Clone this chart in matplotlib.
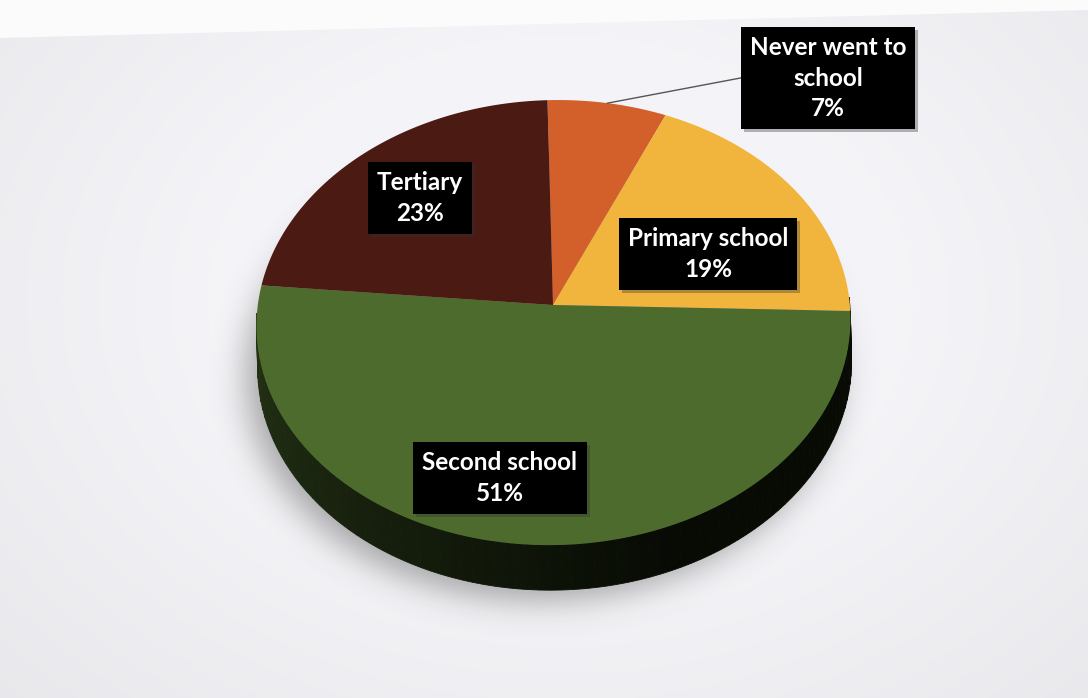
import numpy as np
import matplotlib
matplotlib.use("Agg")
import matplotlib.pyplot as plt
from matplotlib.patches import Polygon, Rectangle
from matplotlib.path import Path

# ---- data -------------------------------------------------------------
categories = ["Never went to school", "Primary school", "Second school", "Tertiary"]
label_lines = ["Never went to\nschool", "Primary school", "Second school", "Tertiary"]
shares = [7, 19, 51, 23]
slice_colors = ["#d3602b", "#f1b53d", "#4c6b2c", "#4a1a13"]

# label anchor points (pixel space, origin top-left)
label_pos = [(828, 78), (708, 254), (500, 478), (420, 198)]

# ---- geometry of the tilted pie ----------------------------------------
W, H = 1088, 698
CX, CY = 553, 305
RX, RY = 296, 221
K = 0.079          # perspective strength
TILT = 0.027       # small in-plane rotation
DEPTH = 41.5       # thickness of the disc

fig = plt.figure(figsize=(W / 100, H / 100), dpi=100)
ax = fig.add_axes([0, 0, 1, 1])
ax.set_xlim(0, W)
ax.set_ylim(H, 0)
ax.axis("off")


def project(t, drop=0.0, r=1.0):
    s, c = np.sin(t), np.cos(t)
    w = 1 + K * s
    x = r * RX * c / w
    y = -r * RY * s / w + drop / w
    return CX + x + TILT * y, CY + y - TILT * x


# ---- background: paper with soft vignette ------------------------------
yy, xx = np.mgrid[0:H, 0:W]
d = np.sqrt(((xx - 560) / 640.0) ** 2 + ((yy - 300) / 480.0) ** 2)
shade = 0.975 - 0.07 * np.clip(d - 0.5, 0, None)
bg = np.dstack([shade * 0.985, shade * 0.985, shade, np.ones_like(shade)])
ax.imshow(bg, extent=[0, W, H, 0], zorder=0, interpolation="bilinear")
ax.add_patch(Polygon([(0, 0), (W, 0), (W, 10), (0, 38)], closed=True,
                     fc="#fbfbfc", ec="none", zorder=0.5))

# ---- soft shadow under the disc ----------------------------------------
tt = np.linspace(0, 2 * np.pi, 400)
sx, sy = project(tt, drop=DEPTH + 6)
shadow_path = Path(np.column_stack([sx - 12, sy + 4]))
mask = shadow_path.contains_points(np.column_stack([xx.ravel() + 0.5, yy.ravel() + 0.5]))
mask = mask.reshape(H, W).astype(float)
sig = 16.0
fy = np.fft.fftfreq(H)[:, None]
fx = np.fft.fftfreq(W)[None, :]
blur = np.real(np.fft.ifft2(np.fft.fft2(mask) * np.exp(-2 * (np.pi * sig) ** 2 * (fx ** 2 + fy ** 2))))
sh = np.zeros((H, W, 4))
sh[..., 0:3] = 0.35
sh[..., 3] = np.clip(blur, 0, 1) * 0.5
ax.imshow(sh, extent=[0, W, H, 0], zorder=1, interpolation="bilinear")

# ---- slice angles --------------------------------------------------------
total = float(sum(shares))
bounds = 90 - 360 * np.concatenate([[0], np.cumsum(shares)]) / total
starts, ends = bounds[:-1], bounds[1:]


def darken(col, f):
    rgb = np.array(matplotlib.colors.to_rgb(col))
    return tuple(rgb * f)


# ---- disc side (visible on the front half) --------------------------------
for col, a0, a1 in zip(slice_colors, starts, ends):
    hi, lo = a0, a1
    # visible front arc is 180..360 degrees (i.e. -180..0)
    for off in (0, -360, 360):
        seg_hi = min(hi + off, 0)
        seg_lo = max(lo + off, -180)
        if seg_hi <= seg_lo:
            continue
        edges = np.linspace(seg_lo, seg_hi, max(2, int((seg_hi - seg_lo) / 2) + 1))
        for e0, e1 in zip(edges[:-1], edges[1:]):
            tseg = np.radians(np.linspace(e0, e1, 4))
            tx, ty = project(tseg)
            bx, by = project(tseg[::-1], drop=DEPTH)
            mid = (e0 + e1) / 2.0
            f = 0.48 - 0.38 * np.clip((mid + 180) / 110.0, 0, 1)
            ax.add_patch(Polygon(np.column_stack([np.r_[tx, bx], np.r_[ty, by]]),
                                 closed=True, fc=darken(col, f), ec=darken(col, f),
                                 lw=0.6, zorder=2))

# ---- disc top -------------------------------------------------------------
for col, a0, a1 in zip(slice_colors, starts, ends):
    t = np.radians(np.linspace(a0, a1, 120))
    px, py = project(t)
    ax.add_patch(Polygon(np.column_stack([np.r_[CX, px], np.r_[CY, py]]),
                         closed=True, fc=col, ec="none", zorder=3))

# ---- labels -------------------------------------------------------------
font = dict(family="Lato", weight="bold", size=17.5, color="white")
texts = []
for i, (name, share) in enumerate(zip(label_lines, shares)):
    lx, ly = label_pos[i]
    t = ax.text(lx, ly, f"{name}\n{share}%", ha="center", va="center",
                linespacing=1.4, zorder=6, **font,
                bbox=dict(boxstyle="square,pad=0.38", fc="black", ec="none"))
    texts.append(t)

# leader for the smallest slice
mid0 = np.radians((starts[0] + ends[0]) / 2)
lx0, ly0 = project(mid0)
fig.canvas.draw()
inv = ax.transData.inverted()
for i, t in enumerate(texts):
    bb = t.get_bbox_patch().get_window_extent()
    (x0, y0), (x1, y1) = inv.transform([(bb.x0, bb.y0), (bb.x1, bb.y1)])
    ax.add_patch(Rectangle((min(x0, x1) + 3, min(y0, y1) + 3), abs(x1 - x0), abs(y1 - y0),
                           fc=(0.2, 0.2, 0.2, 0.35), ec="none", zorder=5))
    if i == 0:
        ax.plot([lx0, min(x0, x1)], [ly0, (y0 + y1) / 2], color="#555555", lw=1.0, zorder=4)

fig.savefig("out.png", dpi=100, facecolor=fig.get_facecolor())
